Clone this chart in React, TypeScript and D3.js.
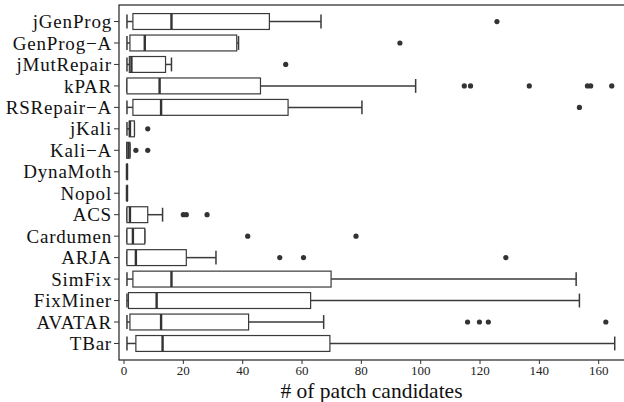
import React from "react";
import * as d3 from "d3";

const categories = ["jGenProg","GenProg\u2212A","jMutRepair","kPAR","RSRepair\u2212A","jKali","Kali\u2212A","DynaMoth","Nopol","ACS","Cardumen","ARJA","SimFix","FixMiner","AVATAR","TBar"];
const whiskerLow = [1,1,1,1,1,1,1,1,1,1,1,1,1,1,1,1];
const q1 = [3,2,1.8,1,3,1.8,0.9,1,1,1,1,1,3,1.5,2,4];
const median = [16,7,2.5,12,12.5,2,1.5,1,1,2,3,4,16,11,12.5,13];
const q3 = [49,38,14,46,55.3,3.5,2,1,1,8,7,21,69.8,62.9,42,69.4];
const whiskerHigh = [66.4,38.6,16,98.3,80.2,3.5,2,1,1,13,7,31,152.4,153.5,67.3,165.4];
const outliers: number[][] = [
  [125.7],
  [93],
  [54.5],
  [114.7,116.8,136.6,156.2,157.3,164.4],
  [153.5],
  [8],
  [4,8],
  [],
  [],
  [20,21,28],
  [41.7,78.2],
  [52.5,60.5,128.7],
  [],
  [],
  [115.8,119.8,122.8,162.4],
  [],
];
const xTicks = [0,20,40,60,80,100,120,140,160];

export default function App() {
  const W = 624, H = 402;
  const left = 119, top = 5, bottom = 360;
  const x = d3.scaleLinear().domain([0,160]).range([124,598.7]);
  const y = d3.scalePoint<string>().domain(categories).range([top,bottom]).padding(0.77);
  const step = y.step();
  const bh = step*0.74;
  const font = "'Liberation Serif','Times New Roman',serif";
  const stroke = "#3a3a3a";
  return (
    <svg width={W} height={H} style={{position:"absolute",left:0,top:0,background:"#fff"}} fontFamily={font}>
      <rect x={left} y={top} width={W-left+5} height={bottom-top} fill="none" stroke="#222" strokeWidth={1.2}/>
      {categories.map((c,i)=>{
        const cy = y(c)!;
        const lo = x(whiskerLow[i]), hi = x(whiskerHigh[i]);
        const b1 = x(q1[i]), b3 = x(q3[i]), m = x(median[i]);
        return (
          <g key={c}>
            <line x1={lo} x2={b1} y1={cy} y2={cy} stroke={stroke} strokeWidth={1.5}/>
            <line x1={b3} x2={hi} y1={cy} y2={cy} stroke={stroke} strokeWidth={1.5}/>
            <line x1={lo} x2={lo} y1={cy-bh/2+1} y2={cy+bh/2-1} stroke={stroke} strokeWidth={1.5}/>
            <line x1={hi} x2={hi} y1={cy-bh/2+1} y2={cy+bh/2-1} stroke={stroke} strokeWidth={1.5}/>
            <rect x={b1} y={cy-bh/2} width={Math.max(b3-b1,0.5)} height={bh} fill="#fff" stroke={stroke} strokeWidth={1.2}/>
            <line x1={m} x2={m} y1={cy-bh/2} y2={cy+bh/2} stroke="#333" strokeWidth={2.4}/>
            {outliers[i].map((v,j)=>(
              <circle key={j} cx={x(v)} cy={cy} r={2.6} fill="#333"/>
            ))}
            <line x1={left-5} x2={left} y1={cy} y2={cy} stroke="#333" strokeWidth={1}/>
            <text x={left-7} y={cy} dy="0.35em" textAnchor="end" fontSize={19} letterSpacing={0.8} fill="#111">{c}</text>
          </g>
        );
      })}
      {xTicks.map(t=>(
        <g key={t}>
          <line x1={x(t)} x2={x(t)} y1={bottom} y2={bottom+4} stroke="#333" strokeWidth={1}/>
          <text x={x(t)} y={bottom+15} textAnchor="middle" fontSize={13} fill="#222">{t}</text>
        </g>
      ))}
      <text x={(left+W)/2} y={398} textAnchor="middle" fontSize={21.5} fill="#111"># of patch candidates</text>
    </svg>
  );
}
